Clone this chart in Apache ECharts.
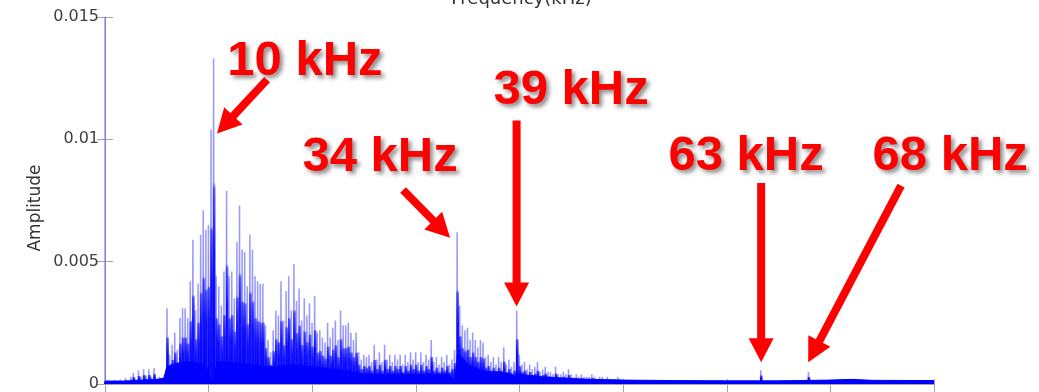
<!DOCTYPE html>
<html><head><meta charset="utf-8">
<script src="https://cdn.jsdelivr.net/npm/echarts@6/dist/echarts.min.js"></script>
<style>html,body{margin:0;padding:0;background:#fff}#c{width:1039px;height:392px}</style>
</head><body><div id="c"></div>
<script>
// Frequency bins (kHz) for the dense spectrum spikes
const binStartKHz = 0;
const binStepKHz = 0.25;
// spike tops, 0.25 kHz bins
const spikes0to10 = [
  0.00015,0.00015,0.0001,0.00012,0.00015,0.0001,0.00018,0.00012,0.00025,0.00015,
  0.0003,0.00045,0.0002,0.00055,0.0003,0.0006,0.00035,0.0006,0.0003,0.00065,
  0.0002,0.0003,0.0002,0.0004,0.0031,0.0012,0.0016,0.0021,0.0014,0.0027,
  0.0031,0.0031,0.0027,0.0042,0.0059,0.0030,0.0041,0.0061,0.0071,0.0063];
const spikes10to20 = [
  0.0065,0.0104,0.0133,0.0044,0.0040,0.0032,0.0046,0.0079,0.0044,0.0046,
  0.0035,0.0058,0.0073,0.0055,0.0054,0.0040,0.0061,0.0055,0.0044,0.0042,
  0.0041,0.0041,0.0024,0.0018,0.0013,0.0022,0.0030,0.0028,0.0042,0.0026,
  0.0038,0.0044,0.0030,0.0049,0.0034,0.0039,0.0026,0.0035,0.0028,0.0033];
const spikes20to30 = [
  0.0025,0.0036,0.0021,0.0022,0.0019,0.0017,0.0025,0.0019,0.0023,0.0026,
  0.0018,0.0030,0.0024,0.0024,0.0025,0.0021,0.0018,0.0021,0.0013,0.0010,
  0.0012,0.0011,0.0012,0.0009,0.0016,0.0010,0.0013,0.0009,0.0016,0.0010,
  0.0012,0.0009,0.0012,0.0010,0.0012,0.0008,0.0012,0.0009,0.0013,0.0010];
const spikes30to40 = [
  0.0013,0.0009,0.0013,0.0009,0.0012,0.0010,0.0018,0.0009,0.0011,0.0008,
  0.0011,0.0009,0.0012,0.0008,0.0010,0.0014,0.0062,0.0032,0.0024,0.0022,
  0.0023,0.0018,0.0021,0.0018,0.0015,0.0018,0.0017,0.0011,0.0012,0.0009,
  0.0011,0.0008,0.0011,0.0009,0.0015,0.0008,0.0010,0.0007,0.0009,0.0030];
const spikes40to50 = [
  0.0012,0.0008,0.0009,0.0006,0.0008,0.0006,0.0007,0.0009,0.0005,0.0006,
  0.0007,0.0005,0.0005,0.0004,0.0007,0.0004,0.0004,0.0005,0.0004,0.0006,
  0.0004,0.0003,0.0004,0.0003,0.0004,0.0003,0.0003,0.0003,0.0004,0.0003,
  0.0002,0.0003,0.0003,0.0002,0.0003,0.0002,0.0002,0.0002,0.0003,0.0002];
// DC component (clipped at top)
const dcKHz = 0;
const dcAmp = 0.02;
// isolated small peaks in the quiet band
const tailPeakKHz = [63.3, 67.9];
const tailPeakAmp = [0.00057, 0.00049];
// solid noise floor envelope
const floorKHz = [0,2,4,5.2,5.7,5.95,6.5,7.5,8.5,9.5,9.9,10.1,10.5,10.8,12,14,15.5,16.5,18,20,
  22,24,25,27,30,33.2,33.5,33.85,34.0,34.4,35,36,37,38,39.3,39.55,39.75,40.0,41,42,
  44,46,48,50,55,60,65,70,72,74,80];
const floorAmp = [0.00012,0.00012,0.00016,0.0002,0.00025,0.0007,0.0008,0.0009,0.0009,0.0008,
  0.0006,0.0002,0.0002,0.0009,0.0009,0.0008,0.0007,0.0007,0.0008,0.0007,
  0.0006,0.0005,0.0004,0.0004,0.0004,0.0004,0.0002,0.0002,0.0012,0.0011,
  0.0008,0.0006,0.0005,0.0005,0.0004,0.0002,0.0005,0.0004,0.00035,0.0003,
  0.00025,0.0002,0.00018,0.00016,0.00014,0.00013,0.00013,0.00016,0.00019,0.00015,0.00014];
// axis ranges
const xMin = 0, xMax = 80, xStep = 10;
const yMin = 0, yMax = 0.015, yStep = 0.005;
// annotations (data coordinates): label centre, arrow tail, arrow tip
const annoLabels = ['10 kHz','34 kHz','39 kHz','63 kHz','68 kHz'];
const annoText = [[19.3,0.01319],[26.54,0.00927],[44.98,0.01199],[61.87,0.00931],[81.56,0.00931]];
const annoFrom = [[15.64,0.01244],[28.76,0.00793],[39.72,0.01077],[63.32,0.00822],[76.82,0.00811]];
const annoTo   = [[10.81,0.01024],[33.3,0.00598],[39.72,0.00317],[63.32,0.00089],[67.86,0.00089]];

const spikeAmp = [].concat(spikes0to10, spikes10to20, spikes20to30, spikes30to40, spikes40to50);
const spikeData = spikeAmp.map((a, i) => [binStartKHz + i * binStepKHz, a]);
tailPeakKHz.forEach((f, i) => spikeData.push([f, tailPeakAmp[i]]));
const floorData = floorKHz.map((f, i) => [f, floorAmp[i]]);

const chart = echarts.init(document.getElementById('c'), null, {renderer: 'canvas'});
const frame = '#a3a3a3';
const tickFont = 'DejaVu Sans';
function xAx(pos, len) {
  return {type:'value', position:pos, min:xMin, max:xMax, interval:xStep,
    axisLine:{show:true, lineStyle:{color:frame, width:1}},
    axisTick:{show:true, inside:true, length:len, lineStyle:{color:frame}},
    axisLabel:{show:false}, splitLine:{show:false}};
}
function yAx(pos, labels) {
  return {type:'value', position:pos, min:yMin, max:yMax, interval:yStep,
    axisLine:{show:true, lineStyle:{color:frame, width:1}},
    axisTick:{show:true, inside:true, length:8, lineStyle:{color:frame}},
    axisLabel:{show:labels, fontFamily:tickFont, fontSize:16, color:'#404040', margin:6},
    splitLine:{show:false}};
}
// thin light spike line over the full height
const lightGrad = new echarts.graphic.LinearGradient(0,0,0,1,[
  {offset:0, color:'rgba(0,0,255,0.38)'},
  {offset:1, color:'rgba(0,0,255,0.55)'}]);
// dense dark core over the lower part of each spike
const coreGrad = new echarts.graphic.LinearGradient(0,0,0,1,[
  {offset:0, color:'rgba(0,0,255,0)'},
  {offset:0.38, color:'rgba(0,0,255,0)'},
  {offset:0.40, color:'rgba(0,0,255,0.55)'},
  {offset:0.6, color:'rgba(0,0,255,0.9)'},
  {offset:1, color:'rgba(0,0,255,1)'}]);
chart.setOption({
  animation:false,
  backgroundColor:'#ffffff',
  grid:{left:105, right:105, top:17, bottom:6, containLabel:false},
  xAxis:[xAx('bottom',5), xAx('top',8)],
  yAxis:[yAx('left',true), yAx('right',false)],
  series:[
    {type:'line', data:floorData, showSymbol:false, symbol:'none', z:2,
      lineStyle:{color:'#0000ff', width:1}, areaStyle:{color:'#0000ff', opacity:1}},
    {type:'bar', data:spikeData, barWidth:1.6, barGap:'-100%', z:3, itemStyle:{color:lightGrad}},
    {type:'bar', data:spikeData, barWidth:2.7, barGap:'-100%', z:4, itemStyle:{color:coreGrad}},
    {type:'bar', data:[[dcKHz, dcAmp]], barWidth:2, barGap:'-100%', z:3, itemStyle:{color:'rgba(90,90,255,0.45)'}}
  ]
});

function px(p){ return chart.convertToPixel({gridIndex:0}, p); }
const g = [];
const annoFont = 'bold 49px "Liberation Sans", Arial, sans-serif';
annoLabels.forEach((lab, i) => {
  const a = px(annoFrom[i]), b = px(annoTo[i]), t = px(annoText[i]);
  const dx = b[0]-a[0], dy = b[1]-a[1], L = Math.hypot(dx, dy);
  const ux = dx/L, uy = dy/L, headLen = 24, halfW = 12.5;
  const bx = b[0]-ux*headLen, by = b[1]-uy*headLen;
  g.push({type:'line', z:10, shape:{x1:a[0], y1:a[1], x2:b[0]-ux*(headLen-4), y2:b[1]-uy*(headLen-4)},
    style:{stroke:'#ff0000', lineWidth:8}});
  g.push({type:'polygon', z:10, shape:{points:[[b[0],b[1]],[bx-uy*halfW, by+ux*halfW],[bx+uy*halfW, by-ux*halfW]]},
    style:{fill:'#ff0000'}});
  g.push({type:'text', z:11, x:t[0], y:t[1], style:{text:lab, font:annoFont, fill:'#ff0000',
    align:'center', verticalAlign:'middle', textAlign:'center', textVerticalAlign:'middle',
    shadowColor:'rgba(0,0,0,0.45)', shadowBlur:4, shadowOffsetX:3, shadowOffsetY:3,
    textShadowColor:'rgba(0,0,0,0.45)', textShadowBlur:4, textShadowOffsetX:3, textShadowOffsetY:3}});
});
const topMid = px([(xMin+xMax)/2, yMax]);
g.push({type:'text', x:topMid[0]+2, y:-1, style:{text:'Frequency(kHz)', font:'18px "DejaVu Sans"', fill:'#333333',
  align:'center', verticalAlign:'middle', textAlign:'center', textVerticalAlign:'middle'}});
g.push({type:'text', x:36, y:208, rotation:Math.PI/2, style:{text:'Amplitude', font:'17px "DejaVu Sans"', fill:'#333333',
  align:'center', verticalAlign:'middle', textAlign:'center', textVerticalAlign:'middle'}});
chart.setOption({graphic:{elements:g}});
</script></body></html>
